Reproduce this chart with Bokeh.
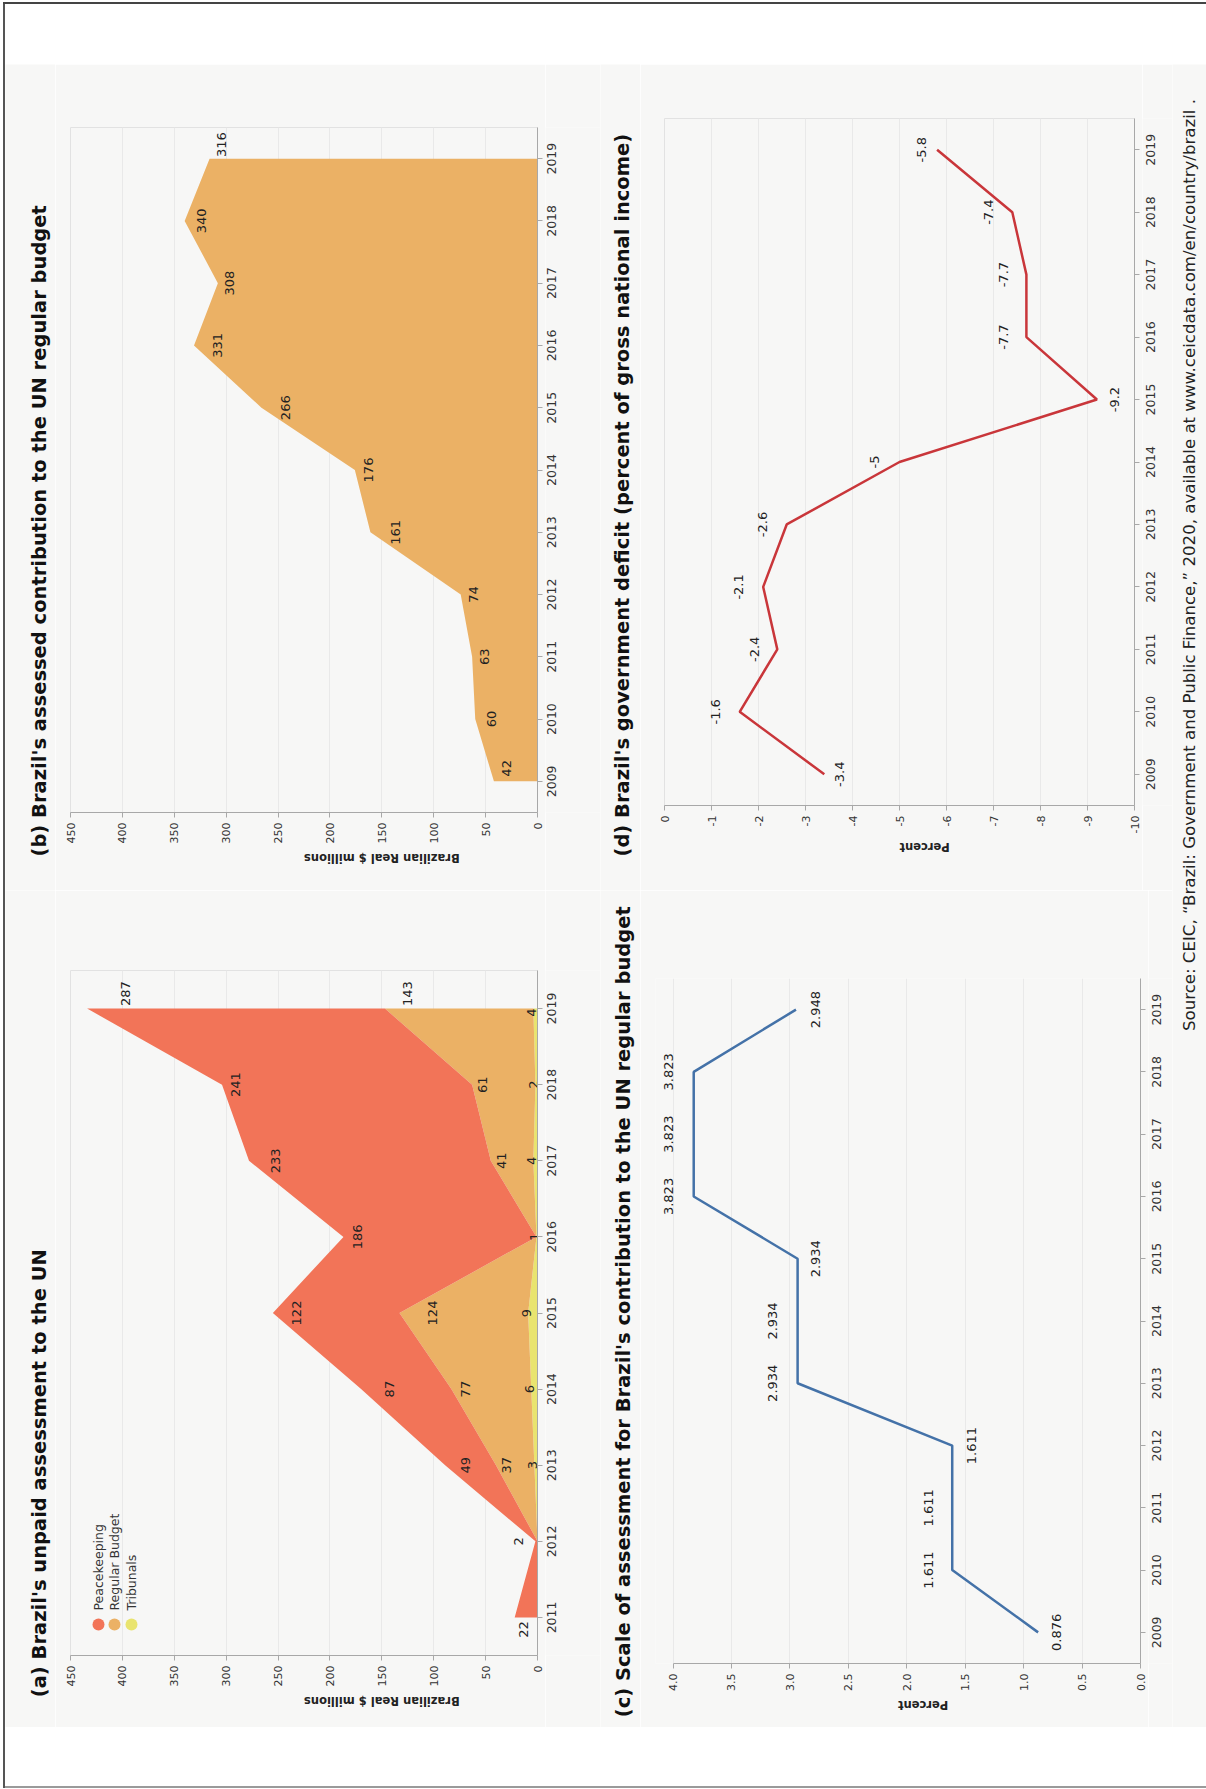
import math
from bokeh.plotting import figure
from bokeh.models import Range1d, FixedTicker, PrintfTickFormatter, ColumnDataSource, Spacer, Div
from bokeh.layouts import row, column
from bokeh.embed import file_html
from bokeh.resources import INLINE
from bokeh.core.properties import value

FONT = "DejaVu Sans"
BG = "#f7f7f6"
INK = "#222222"
AXIS = "#a8a8a8"
GRID = "#e9e9e9"
FRAME = "#e2e2e2"

# ---------------- data ----------------
# (a) unpaid assessment, Brazilian Real $ millions
years_a = [2011, 2012, 2013, 2014, 2015, 2016, 2017, 2018, 2019]
peacekeeping = [22, 2, 49, 87, 122, 186, 233, 241, 287]
regular_budget = [0, 0, 37, 77, 124, 0, 41, 61, 143]
tribunals = [0, 0, 3, 6, 9, 1, 4, 2, 4]
series_names = ["Peacekeeping", "Regular Budget", "Tribunals"]

# (b) assessed contribution to the UN regular budget
years = [2009, 2010, 2011, 2012, 2013, 2014, 2015, 2016, 2017, 2018, 2019]
regular_contribution = [42, 60, 63, 74, 161, 176, 266, 331, 308, 340, 316]

# (c) scale of assessment (percent)
scale_pct = [0.876, 1.611, 1.611, 1.611, 2.934, 2.934, 2.934, 3.823, 3.823, 3.823, 2.948]

# (d) government deficit (percent of GNI)
deficit_pct = [-3.4, -1.6, -2.4, -2.1, -2.6, -5, -9.2, -7.7, -7.7, -7.4, -5.8]

money_ticks = [0, 50, 100, 150, 200, 250, 300, 350, 400, 450]
scale_ticks = [0.0, 0.5, 1.0, 1.5, 2.0, 2.5, 3.0, 3.5, 4.0]
deficit_ticks = [0, -1, -2, -3, -4, -5, -6, -7, -8, -9, -10]

TITLE_A = "(a)  Brazil's unpaid assessment to the UN"
TITLE_B = "(b)  Brazil's assessed contribution to the UN regular budget"
TITLE_C = "(c)  Scale of assessment for Brazil's contribution to the UN regular budget"
TITLE_D = "(d)  Brazil's government deficit (percent of gross national income)"
MONEY_LABEL = "Brazilian Real $ millions"
PCT_LABEL = "Percent"
SOURCE = ("Source: CEIC, \u201cBrazil:  Government and Public Finance,\u201d 2020,  "
          "available at www.ceicdata.com/en/country/brazil .")

# ---------------- label nudges (screen px, style only) ----------------
pk_dx = [9, -17, 20, 28, 24, 14, 27, 13, 38]
pk_dy = [12, 0, 0, 0, 0, 0, 0, 0, -15]
rb_dx = [0, 0, 11, 14, 33, 0, 11, 10, 23]
rb_dy = [0, 0, 0, 0, 0, 0, 0, 0, -15]
tr_dx = [-1.5] * 9
tr_dy = [0, 0, 0, 0, 0, 0, 0, 0, 4]
b_dx = [13, 16, 12, 13, 25, 14, 24, 24, 12, 17, 12]
b_dy = [-13, 0, 0, 0, 0, 0, 0, 0, 0, 0, -14]
c_dx = [18, -24, -24, 19, -25, -25, 18, -25, -25, -25, 20]
d_dx = [15.5, -24, -23, -24.5, -24.5, -25, 18, -23, -23, -24, -16]

COL_PK = "#f27458"
COL_RB = "#ebb165"
COL_TR = "#e9e46f"
COL_LINE_C = "#4472a8"
COL_LINE_D = "#c9363a"


def no_align(p):
    if "frame_align" in p.properties():
        p.frame_align = False
    return p


def strip(w, h, yr=None, top=0, bottom=0):
    p = figure(width=w, height=h, x_range=Range1d(0, w),
               y_range=yr if yr is not None else Range1d(0, h),
               x_axis_location=None, y_axis_location=None, title_location=None,
               min_border_left=0, min_border_right=0, min_border_top=top, min_border_bottom=bottom,
               background_fill_color=BG, border_fill_color=BG, outline_line_color=None,
               output_backend="svg", toolbar_location=None)
    p.grid.visible = False
    return no_align(p)


def block(title, title_w, title_xy, w, h, xr, yr, borders, xticks, xfmt, xlabel, yticks,
          year_w, year_x, value_bounds=None):
    l, r, t, b = borders
    # rotated title (reads bottom-to-top)
    ts = strip(title_w, h)
    ts.text(x=[title_xy[0]], y=[title_xy[1]], text=[title], angle=math.pi / 2,
            text_align="left", text_baseline="middle", text_font=value(FONT),
            text_font_size="19.5px", text_font_style="bold", text_color="#111111")

    p = figure(width=w, height=h, x_range=Range1d(*xr), y_range=Range1d(*yr),
               title_location=None,
               x_axis_location="below", y_axis_location="right",
               min_border_left=l, min_border_right=r, min_border_top=t, min_border_bottom=b,
               background_fill_color=BG, border_fill_color=BG,
               outline_line_color=FRAME if value_bounds is None else None,
               output_backend="svg", toolbar_location=None)
    no_align(p)

    xa = p.xaxis[0]
    xa.ticker = FixedTicker(ticks=xticks)
    xa.formatter = PrintfTickFormatter(format=xfmt)
    xa.major_label_orientation = math.pi / 2
    xa.major_label_text_font = FONT
    xa.major_label_text_font_size = "11px"
    xa.major_label_text_color = "#333333"
    xa.axis_line_color = AXIS
    xa.major_tick_line_color = AXIS
    xa.minor_tick_line_color = None
    xa.major_tick_in = 0
    xa.major_tick_out = 5
    xa.major_label_standoff = 5
    xa.axis_label = xlabel
    xa.axis_label_text_font = FONT
    xa.axis_label_text_font_size = "11.5px"
    xa.axis_label_text_font_style = "bold"
    xa.axis_label_text_color = INK
    xa.axis_label_standoff = 11
    if "axis_label_orientation" in xa.properties():
        xa.axis_label_orientation = math.pi

    ya = p.yaxis[0]
    ya.ticker = FixedTicker(ticks=yticks)
    ya.major_label_overrides = {yv: "" for yv in yticks}
    ya.axis_line_color = AXIS
    ya.major_tick_line_color = AXIS
    ya.minor_tick_line_color = None
    ya.major_tick_in = 0
    ya.major_tick_out = 5
    ya.major_label_standoff = 0

    p.xgrid.ticker = FixedTicker(ticks=xticks)
    p.xgrid.grid_line_color = GRID
    if value_bounds is None:
        p.ygrid.visible = False
    else:
        # value axis spans only the tick range; frame top edge drawn over the same span
        xa.bounds = value_bounds
        p.ygrid.ticker = FixedTicker(ticks=[yr[1]])
        p.ygrid.bounds = value_bounds
        p.ygrid.grid_line_color = FRAME
        p.ygrid.grid_line_width = 2

    # year tick labels, centred on the ticks of the shared year range
    ys = strip(year_w, h, yr=p.y_range, top=t, bottom=b)
    ys.text(x=[year_x] * len(yticks), y=yticks, text=[str(v) for v in yticks],
            angle=math.pi / 2, text_align="center", text_baseline="middle",
            text_font=value(FONT), text_font_size="12.5px", text_color="#333333")
    return ts, p, ys


def labels(p, xs, ys, texts, dx, dy, size="13px"):
    src = ColumnDataSource(dict(x=xs, y=ys, text=texts, dx=dx, dy=dy))
    p.text(x="x", y="y", text="text", x_offset="dx", y_offset="dy", source=src,
           angle=math.pi / 2, text_align="center", text_baseline="middle",
           text_font=value(FONT), text_font_size=size, text_color=INK)


# ---------------- (b) ----------------
tb, pb, yb = block(TITLE_B, 50, (34, 34), 490, 826, (450, 0), (2008.5, 2019.5), (15, 8, 63, 78),
                   money_ticks, "%d", MONEY_LABEL, years, 55, 5.5)
pb.harea(x1=[0] * len(years), x2=regular_contribution, y=years, fill_color=COL_RB)
labels(pb, regular_contribution, years, [str(v) for v in regular_contribution], b_dx, b_dy)

# ---------------- (a) ----------------
ta, pa, ya_ = block(TITLE_A, 50, (34.3, 30.3), 490, 837, (450, 0), (2010.5, 2019.5), (15, 8, 80, 72),
                    money_ticks, "%d", MONEY_LABEL, years_a, 55, 5.5)
top_t = list(tribunals)
top_r = [t + r for t, r in zip(tribunals, regular_budget)]
top_p = [t + r + k for t, r, k in zip(tribunals, regular_budget, peacekeeping)]
pa.harea(x1=[0] * len(years_a), x2=top_t, y=years_a, fill_color=COL_TR)
pa.harea(x1=top_t, x2=top_r, y=years_a, fill_color=COL_RB)
pa.harea(x1=top_r, x2=top_p, y=years_a, fill_color=COL_PK)
for vals, tops, dx, dy in ((peacekeeping, top_p, pk_dx, pk_dy),
                           (regular_budget, top_r, rb_dx, rb_dy),
                           (tribunals, top_t, tr_dx, tr_dy)):
    idx = [i for i, v in enumerate(vals) if v > 0]
    labels(pa, [tops[i] for i in idx], [years_a[i] for i in idx], [str(vals[i]) for i in idx],
           [dx[i] for i in idx], [dy[i] for i in idx])

# legend (rotated, drawn in the frame)
fw_a, fh_a = 490 - 15 - 8, 837 - 80 - 72
leg_px_x = [28, 44, 61]
leg_dot_up, leg_text_up = 31, 45
xs0, xs1 = pa.x_range.start, pa.x_range.end
ys0, ys1 = pa.y_range.start, pa.y_range.end
leg_x = [xs0 + (xs1 - xs0) * px / fw_a for px in leg_px_x]
leg_y_dot = ys0 + (ys1 - ys0) * leg_dot_up / fh_a
leg_y_txt = ys0 + (ys1 - ys0) * leg_text_up / fh_a
pa.scatter(x=leg_x, y=[leg_y_dot] * 3, size=12, marker="circle",
           fill_color=[COL_PK, COL_RB, COL_TR], line_color=None)
pa.text(x=leg_x, y=[leg_y_txt] * 3, text=series_names, angle=math.pi / 2,
        text_align="left", text_baseline="middle", text_font=value(FONT),
        text_font_size="12.5px", text_color="#333333")

# ---------------- (d) ----------------
td, pd_, yd = block(TITLE_D, 40, (22, 34), 502, 826, (0, -10), (2008.5, 2019.5), (24, 8, 54, 85),
                    deficit_ticks, "%d", PCT_LABEL, years, 30, 8)
pd_.line(x=deficit_pct, y=years, line_color=COL_LINE_D, line_width=2.5)
labels(pd_, deficit_pct, years, [f"{v:g}" for v in deficit_pct], d_dx, [0] * len(years))

# ---------------- (c) ----------------
# range runs a little past 4.0 so the labels left of the 4.0 line stay visible
tc, pc, yc = block(TITLE_C, 40, (23.3, 10.3), 508, 837, (4.15, 0), (2008.5, 2019.5), (15, 8, 88, 64),
                   scale_ticks, "%.1f", PCT_LABEL, years, 24, 8, value_bounds=(0, 4))
pc.line(x=scale_pct, y=years, line_color=COL_LINE_C, line_width=2.5)
labels(pc, scale_pct, years, [f"{v:.3f}" for v in scale_pct], c_dx, [0] * len(years))

# ---------------- source strip ----------------
ps = strip(34, 1663)
ps.text(x=[17], y=[1639], text=[SOURCE], angle=math.pi / 2, text_align="right",
        text_baseline="middle", text_font=value(FONT), text_font_size="16.6px", text_color="#222222")


# ---------------- page frame ----------------
def rule(w, h, color):
    return Div(text="", width=w, height=h, margin=0,
               styles={"background-color": color, "overflow": "hidden"})


main = row(column(tb, ta), column(row(pb, yb), row(pa, ya_)),
           column(td, tc), column(row(pd_, yd), row(pc, yc)), ps)
content = column(Spacer(width=1201, height=60), main, Spacer(width=1201, height=59),
                 rule(1201, 2, "#9a9a9a"))
layout = column(Spacer(width=1206, height=2),
                row(Spacer(width=3, height=1786),
                    column(rule(1203, 2, "#444444"),
                           row(rule(2, 1784, "#555555"), content))))

open("out.html", "w").write(file_html(layout, INLINE))
